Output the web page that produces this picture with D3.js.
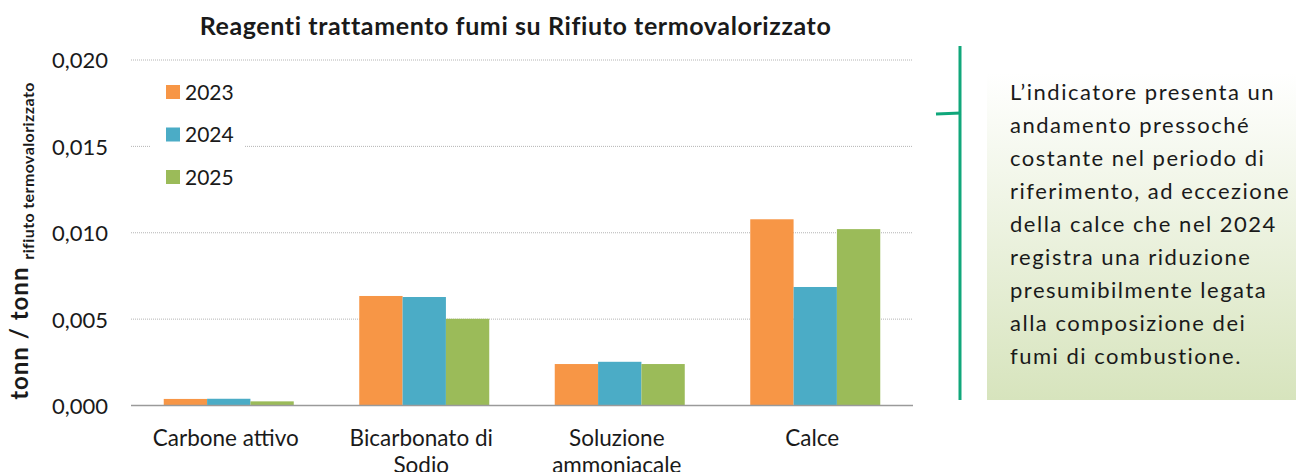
<!DOCTYPE html>
<html>
<head>
<meta charset="utf-8">
<script src="https://cdn.jsdelivr.net/npm/d3@7"></script>
<style>
  html, body { margin: 0; padding: 0; background: #ffffff; }
  svg { display: block; font-family: Lato, "Noto Sans", sans-serif; }
</style>
</head>
<body>
<svg id="chart" width="1296" height="472"></svg>
<script>
// Reagent consumption per tonne of waste, by reagent and year
const categories = ["Carbone attivo", "Bicarbonato di Sodio", "Soluzione ammoniacale", "Calce"];
const categoryLines = [["Carbone attivo"], ["Bicarbonato di", "Sodio"], ["Soluzione", "ammoniacale"], ["Calce"]];
const years = ["2023", "2024", "2025"];
const values2023 = [0.00038, 0.00634, 0.00240, 0.01078];
const values2024 = [0.00039, 0.00628, 0.00253, 0.00686];
const values2025 = [0.00024, 0.00502, 0.00240, 0.01021];
const yTicks = [0, 0.005, 0.010, 0.015, 0.020];
const colors = ["#F79646", "#4BACC6", "#9BBB59"];

const noteLines = [
  "L\u2019indicatore presenta un",
  "andamento pressoché",
  "costante nel periodo di",
  "riferimento, ad eccezione",
  "della calce che nel 2024",
  "registra una riduzione",
  "presumibilmente legata",
  "alla composizione dei",
  "fumi di combustione."
];

const series = [values2023, values2024, values2025];

const svg = d3.select("#chart");

const plot = { left: 131, right: 913, top: 60, bottom: 405.5 };

const x = d3.scaleBand()
  .domain(categories)
  .range([plot.left, plot.right])
  .paddingInner(0.335)
  .paddingOuter(0.1675);

const xYear = d3.scaleBand()
  .domain(years)
  .range([0, x.bandwidth()]);

const y = d3.scaleLinear()
  .domain([0, 0.02])
  .range([plot.bottom, plot.top]);

const fmt = v => d3.format(".3f")(v).replace(".", ",");

// Dotted gridlines
svg.append("g")
  .selectAll("line")
  .data(yTicks.filter(t => t > 0))
  .join("line")
  .attr("x1", plot.left).attr("x2", plot.right)
  .attr("y1", d => y(d)).attr("y2", d => y(d))
  .attr("stroke", "#b4b4b4")
  .attr("stroke-width", 1)
  .attr("stroke-dasharray", "1 1");

// Y axis labels
const yAxis = d3.axisLeft(y).tickValues(yTicks).tickFormat(fmt).tickSize(0).tickPadding(0);
const gy = svg.append("g").attr("transform", "translate(108,0)").call(yAxis);
gy.select(".domain").remove();
gy.selectAll("text")
  .attr("font-family", "Lato, sans-serif")
  .attr("font-size", 22)
  .attr("fill", "#1a1a1a")
  .attr("dy", "0.36em");

// Bars
const groups = svg.append("g")
  .selectAll("g")
  .data(categories)
  .join("g")
  .attr("transform", d => `translate(${x(d)},0)`);

groups.selectAll("rect")
  .data((d, i) => years.map((yr, k) => ({ year: yr, value: series[k][i], k })))
  .join("rect")
  .attr("x", d => xYear(d.year))
  .attr("width", xYear.bandwidth())
  .attr("y", d => y(d.value))
  .attr("height", d => y(0) - y(d.value))
  .attr("fill", d => colors[d.k]);

// Baseline
svg.append("line")
  .attr("x1", plot.left).attr("x2", plot.right)
  .attr("y1", y(0)).attr("y2", y(0))
  .attr("stroke", "#9a9a9a")
  .attr("stroke-width", 1.5);

// X axis labels (second line runs off the bottom edge)
const xAxis = d3.axisBottom(x).tickSize(0).tickFormat("");
const gx = svg.append("g").attr("transform", `translate(0,${y(0)})`).call(xAxis);
gx.select(".domain").remove();
gx.selectAll(".tick").each(function(d, i) {
  const t = d3.select(this).append("text")
    .attr("text-anchor", "middle")
    .attr("font-family", "Lato, sans-serif")
    .attr("font-size", 22.5)
    .attr("fill", "#1a1a1a");
  categoryLines[i].forEach((line, j) => {
    t.append("tspan").attr("x", -3).attr("y", 40 + j * 27).text(line);
  });
});

// Legend
const legend = svg.append("g");
legend.append("rect")
  .attr("x", 150).attr("y", 72).attr("width", 95).attr("height", 124)
  .attr("fill", "#ffffff");
const li = legend.selectAll("g.item")
  .data(years)
  .join("g")
  .attr("class", "item")
  .attr("transform", (d, i) => `translate(166,${85 + i * 42.5})`);
li.append("rect")
  .attr("width", 14).attr("height", 14)
  .attr("fill", (d, i) => colors[i]);
li.append("text")
  .attr("x", 19).attr("y", 14.5)
  .attr("font-size", 21)
  .attr("fill", "#1a1a1a")
  .text(d => d);

// Title
svg.append("text")
  .attr("x", 515.5).attr("y", 35)
  .attr("text-anchor", "middle")
  .attr("font-size", 25)
  .attr("letter-spacing", 0.6)
  .attr("font-weight", "bold")
  .attr("fill", "#1a1a1a")
  .text("Reagenti trattamento fumi su Rifiuto termovalorizzato");

// Y axis title with subscript
const yTitle = svg.append("text")
  .attr("transform", "translate(28,241) rotate(-90)")
  .attr("text-anchor", "middle")
  .attr("font-weight", "bold")
  .attr("fill", "#1a1a1a");
yTitle.append("tspan").attr("font-size", 24).attr("letter-spacing", 1).text("tonn / tonn ");
yTitle.append("tspan").attr("font-size", 16).attr("letter-spacing", 0.4).attr("dy", 6).text("rifiuto termovalorizzato");

// Note panel
const defs = svg.append("defs");
const grad = defs.append("linearGradient")
  .attr("id", "noteFill")
  .attr("x1", 0).attr("y1", 0).attr("x2", 0).attr("y2", 1);
grad.append("stop").attr("offset", "0%").attr("stop-color", "#ffffff");
grad.append("stop").attr("offset", "100%").attr("stop-color", "#d7e4bd");

svg.append("rect")
  .attr("x", 987).attr("y", 73).attr("width", 309).attr("height", 327)
  .attr("fill", "url(#noteFill)");

svg.append("line")
  .attr("x1", 960).attr("x2", 960).attr("y1", 46).attr("y2", 400)
  .attr("stroke", "#10a77b").attr("stroke-width", 3);
svg.append("line")
  .attr("x1", 936).attr("x2", 961).attr("y1", 114).attr("y2", 113)
  .attr("stroke", "#10a77b").attr("stroke-width", 3);

svg.append("g")
  .selectAll("text")
  .data(noteLines)
  .join("text")
  .attr("x", 1010)
  .attr("y", (d, i) => 100 + i * 33)
  .attr("font-size", 22)
  .attr("letter-spacing", 1.5)
  .attr("fill", "#1a1a1a")
  .text(d => d);
</script>
</body>
</html>
